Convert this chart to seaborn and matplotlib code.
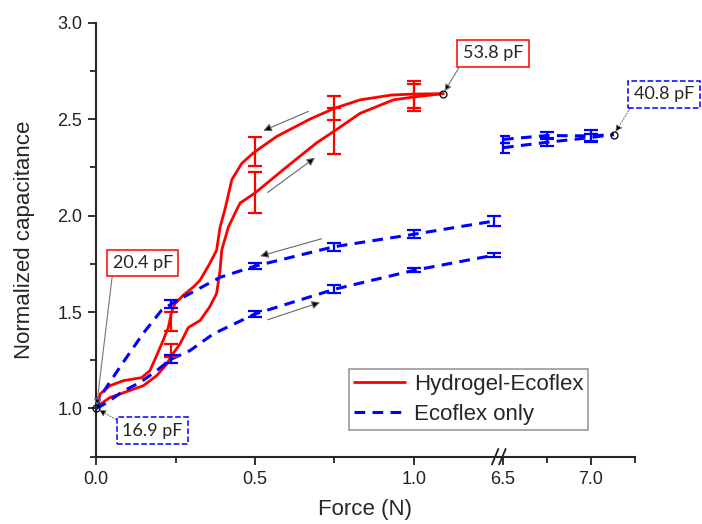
import numpy as np
import matplotlib
matplotlib.use("Agg")
import matplotlib.pyplot as plt
from matplotlib.ticker import MultipleLocator, FixedLocator
import seaborn as sns

# Hydrogel-Ecoflex, loading (lower) and unloading (upper) curves
hyd_load_x = [0, 0.006, 0.043, 0.117, 0.148, 0.19, 0.222, 0.235, 0.264, 0.29, 0.327, 0.357,
              0.379, 0.39, 0.395, 0.416, 0.437, 0.453, 0.5, 0.589, 0.694, 0.757, 0.831,
              0.936, 1.0, 1.093]
hyd_load_y = [1.0, 1.014, 1.057, 1.10, 1.118, 1.17, 1.23, 1.27, 1.335, 1.42, 1.456, 1.526,
              1.596, 1.717, 1.82, 1.94, 2.012, 2.065, 2.117, 2.238, 2.377, 2.446, 2.53,
              2.60, 2.615, 2.632]
hyd_unload_x = [0, 0.012, 0.043, 0.085, 0.143, 0.169, 0.19, 0.206, 0.227, 0.237, 0.248, 0.274,
                0.306, 0.327, 0.357, 0.379, 0.39, 0.405, 0.427, 0.458, 0.495, 0.568, 0.673,
                0.75, 0.831, 0.93, 1.0, 1.093]
hyd_unload_y = [1.0, 1.075, 1.118, 1.144, 1.16, 1.196, 1.274, 1.335, 1.42, 1.50, 1.544, 1.587,
                1.63, 1.665, 1.75, 1.82, 1.94, 2.03, 2.186, 2.27, 2.325, 2.41, 2.50,
                2.556, 2.60, 2.625, 2.63, 2.632]
hyd_err_x = [0.235, 0.5, 0.75, 1.0]
hyd_load_err_y = [1.30, 2.12, 2.44, 2.61]
hyd_load_err = [0.033, 0.105, 0.12, 0.07]
hyd_unload_err_y = [1.45, 2.333, 2.556, 2.63]
hyd_unload_err = [0.05, 0.075, 0.063, 0.07]

# Ecoflex only, low-force segment
eco_load_x = [0, 0.033, 0.085, 0.138, 0.19, 0.235, 0.295, 0.369, 0.5, 0.75, 1.0, 1.254]
eco_load_y = [1.0, 1.03, 1.09, 1.135, 1.196, 1.255, 1.30, 1.387, 1.49, 1.618, 1.716, 1.795]
eco_unload_x = [0, 0.012, 0.04, 0.085, 0.148, 0.206, 0.235, 0.295, 0.39, 0.5, 0.75, 1.0, 1.254]
eco_unload_y = [1.0, 1.06, 1.13, 1.24, 1.39, 1.51, 1.54, 1.596, 1.68, 1.738, 1.839, 1.903, 1.972]
eco_err_x = [0.235, 0.5, 0.75, 1.0, 1.254]
eco_load_err_y = [1.255, 1.49, 1.618, 1.716, 1.795]
eco_load_err = [0.02, 0.015, 0.02, 0.01, 0.01]
eco_unload_err_y = [1.54, 1.738, 1.839, 1.903, 1.972]
eco_unload_err = [0.02, 0.015, 0.02, 0.02, 0.025]

# Ecoflex only, high-force segment
eco_hi_x = [6.5, 6.75, 7.0, 7.13]
eco_hi_load_y = [2.352, 2.38, 2.405, 2.42]
eco_hi_unload_y = [2.395, 2.415, 2.413, 2.42]
eco_hi_err_x = [6.5, 6.75, 7.0]
eco_hi_load_err = [0.025, 0.02, 0.02]
eco_hi_unload_err = [0.02, 0.02, 0.03]

RED = "#ff0000"
BLUE = "#0000ff"

sns.set_style("ticks")
plt.rcParams["font.family"] = ["Liberation Sans", "DejaVu Sans"]

fig = plt.figure(figsize=(7.02, 5.24), dpi=100)
fw, fh = 702, 524
x0, xb, x1 = 96.3, 500, 635
ytop, ybot = 22.7, 456.7
ax1 = fig.add_axes([x0 / fw, 1 - ybot / fh, (xb - x0) / fw, (ybot - ytop) / fh])
ax2 = fig.add_axes([xb / fw, 1 - ybot / fh, (x1 - xb) / fw, (ybot - ytop) / fh], sharey=ax1)
for a in (ax1, ax2):
    a.set_facecolor("none")

dash = (0, (3.5, 2.4))
sns.lineplot(x=hyd_load_x, y=hyd_load_y, ax=ax1, color=RED, lw=2, sort=False, estimator=None,
             label="Hydrogel-Ecoflex")
sns.lineplot(x=hyd_unload_x, y=hyd_unload_y, ax=ax1, color=RED, lw=2, sort=False, estimator=None)
sns.lineplot(x=eco_load_x, y=eco_load_y, ax=ax1, color=BLUE, lw=2.2, linestyle=dash, sort=False,
             estimator=None, label="Ecoflex only")
sns.lineplot(x=eco_unload_x, y=eco_unload_y, ax=ax1, color=BLUE, lw=2.2, linestyle=dash,
             sort=False, estimator=None)
sns.lineplot(x=eco_hi_x, y=eco_hi_load_y, ax=ax2, color=BLUE, lw=2.2, linestyle=dash, sort=False,
             estimator=None)
sns.lineplot(x=eco_hi_x, y=eco_hi_unload_y, ax=ax2, color=BLUE, lw=2.2, linestyle=dash,
             sort=False, estimator=None)

ekw = dict(fmt="none", capsize=5, elinewidth=1.6, capthick=1.6)
ax1.errorbar(hyd_err_x, hyd_load_err_y, yerr=hyd_load_err, ecolor=RED, **ekw)
ax1.errorbar(hyd_err_x, hyd_unload_err_y, yerr=hyd_unload_err, ecolor=RED, **ekw)
ax1.errorbar(eco_err_x, eco_load_err_y, yerr=eco_load_err, ecolor=BLUE, **ekw)
ax1.errorbar(eco_err_x, eco_unload_err_y, yerr=eco_unload_err, ecolor=BLUE, **ekw)
ax2.errorbar(eco_hi_err_x, eco_hi_load_y[:3], yerr=eco_hi_load_err, ecolor=BLUE, **ekw)
ax2.errorbar(eco_hi_err_x, eco_hi_unload_y[:3], yerr=eco_hi_unload_err, ecolor=BLUE, **ekw)

# open circles at annotated points
ax1.plot([0, hyd_load_x[-1]], [1.0, hyd_load_y[-1]], "o", mfc="none", mec="black", ms=5, mew=0.9,
         clip_on=False, zorder=5)
ax2.plot([eco_hi_x[-1]], [eco_hi_load_y[-1]], "o", mfc="none", mec="black", ms=5, mew=0.9,
         clip_on=False, zorder=5)

# axes
ax1.set_xlim(0, (xb - x0) / 317.4)
ax2.set_xlim(7.25 - (x1 - xb) / 176, 7.25)
ax1.set_ylim(0.75, 3.0)
ax1.xaxis.set_major_locator(FixedLocator([0, 0.5, 1.0]))
ax1.xaxis.set_minor_locator(FixedLocator([0.25, 0.75]))
ax2.xaxis.set_major_locator(FixedLocator([6.5, 7.0]))
ax2.xaxis.set_minor_locator(FixedLocator([6.75, 7.25]))
ax1.yaxis.set_major_locator(MultipleLocator(0.5))
ax1.yaxis.set_minor_locator(MultipleLocator(0.25))
ax1.xaxis.set_major_formatter(plt.FormatStrFormatter("%.1f"))
ax2.xaxis.set_major_formatter(plt.FormatStrFormatter("%.1f"))
ax1.yaxis.set_major_formatter(plt.FormatStrFormatter("%.1f"))

for a in (ax1, ax2):
    for s in ("top", "right"):
        a.spines[s].set_visible(False)
    a.spines["bottom"].set_linewidth(1.5)
    a.spines["left"].set_linewidth(1.5)
    a.tick_params(which="major", direction="out", length=6, width=1.3, labelsize=13, pad=4,
                  color="#222222", labelcolor="#222222")
    a.tick_params(which="minor", direction="out", length=4.5, width=1.3, color="#222222")
ax2.spines["left"].set_visible(False)
ax2.tick_params(axis="y", which="both", left=False, labelleft=False)

ax1.set_ylabel("Normalized capacitance", fontsize=16, labelpad=16)
ax1.set_xlabel("Force (N)", fontsize=16)
ax1.xaxis.set_label_coords((365 - x0) / (xb - x0), -0.098)

# axis break marks
for off in (-0.012, 0.006):
    ax1.plot([1.0 + off - 0.008, 1.0 + off + 0.008], [-0.018, 0.018], transform=ax1.transAxes,
             color="#222222", lw=1.3, clip_on=False, zorder=6)

# value annotations
afont = dict(fontsize=13, family=["Lato", "DejaVu Sans"])
ax1.annotate("20.4 pF", xy=(0, 1.0), xytext=(0.147, 1.754), ha="center", va="center",
             bbox=dict(boxstyle="square,pad=0.3", fc="white", ec=RED, lw=1.1),
             arrowprops=dict(arrowstyle="-|>", color="#777777", fc="black", lw=0.8,
                             mutation_scale=10, relpos=(0, 0), shrinkA=0, shrinkB=2),
             annotation_clip=False, **afont)
ax1.annotate("16.9 pF", xy=(0, 1.0), xytext=(0.176, 0.884), ha="center", va="center",
             bbox=dict(boxstyle="square,pad=0.3", fc="white", ec=BLUE, lw=1.1, ls="--"),
             arrowprops=dict(arrowstyle="-|>", color="#777777", fc="black", lw=0.8, ls=":",
                             mutation_scale=10, relpos=(0, 1), shrinkA=0, shrinkB=2),
             annotation_clip=False, **afont)
ax1.annotate("53.8 pF", xy=(hyd_load_x[-1], hyd_load_y[-1]), xytext=(1.25, 2.842), ha="center",
             va="center", bbox=dict(boxstyle="square,pad=0.3", fc="white", ec=RED, lw=1.1),
             arrowprops=dict(arrowstyle="-|>", color="#777777", fc="black", lw=0.8,
                             mutation_scale=10, relpos=(0, 0), shrinkA=0, shrinkB=2),
             annotation_clip=False, zorder=10, **afont)
ax2.annotate("40.8 pF", xy=(eco_hi_x[-1], eco_hi_load_y[-1]), xytext=(7.415, 2.629), ha="center",
             va="center", bbox=dict(boxstyle="square,pad=0.3", fc="white", ec=BLUE, lw=1.1, ls="--"),
             arrowprops=dict(arrowstyle="-|>", color="#777777", fc="black", lw=0.8, ls=":",
                             mutation_scale=10, relpos=(0, 0), shrinkA=0, shrinkB=2),
             annotation_clip=False, **afont)

# loading / unloading direction arrows
dir_arrows = [((0.668, 2.54), (0.526, 2.44)), ((0.540, 2.12), (0.689, 2.30)),
              ((0.710, 1.88), (0.516, 1.79)), ((0.540, 1.46), (0.705, 1.55))]
for start, end in dir_arrows:
    ax1.annotate("", xy=end, xytext=start,
                 arrowprops=dict(arrowstyle="-|>", color="#666666", fc="black", lw=0.8,
                                 mutation_scale=12, shrinkA=0, shrinkB=0))

ax1.get_legend().remove()
h, l = ax1.get_legend_handles_labels()
leg = fig.legend(h, l, loc="upper left", bbox_to_anchor=(349 / fw, 1 - 369 / fh), fontsize=16,
                 frameon=True, fancybox=False, edgecolor="#999999", framealpha=1,
                 borderaxespad=0, handlelength=2.3, handletextpad=0.4, labelspacing=0.42,
                 borderpad=0.22)
leg.get_frame().set_linewidth(1.2)

fig.savefig("out.png", dpi=100, facecolor="white")
